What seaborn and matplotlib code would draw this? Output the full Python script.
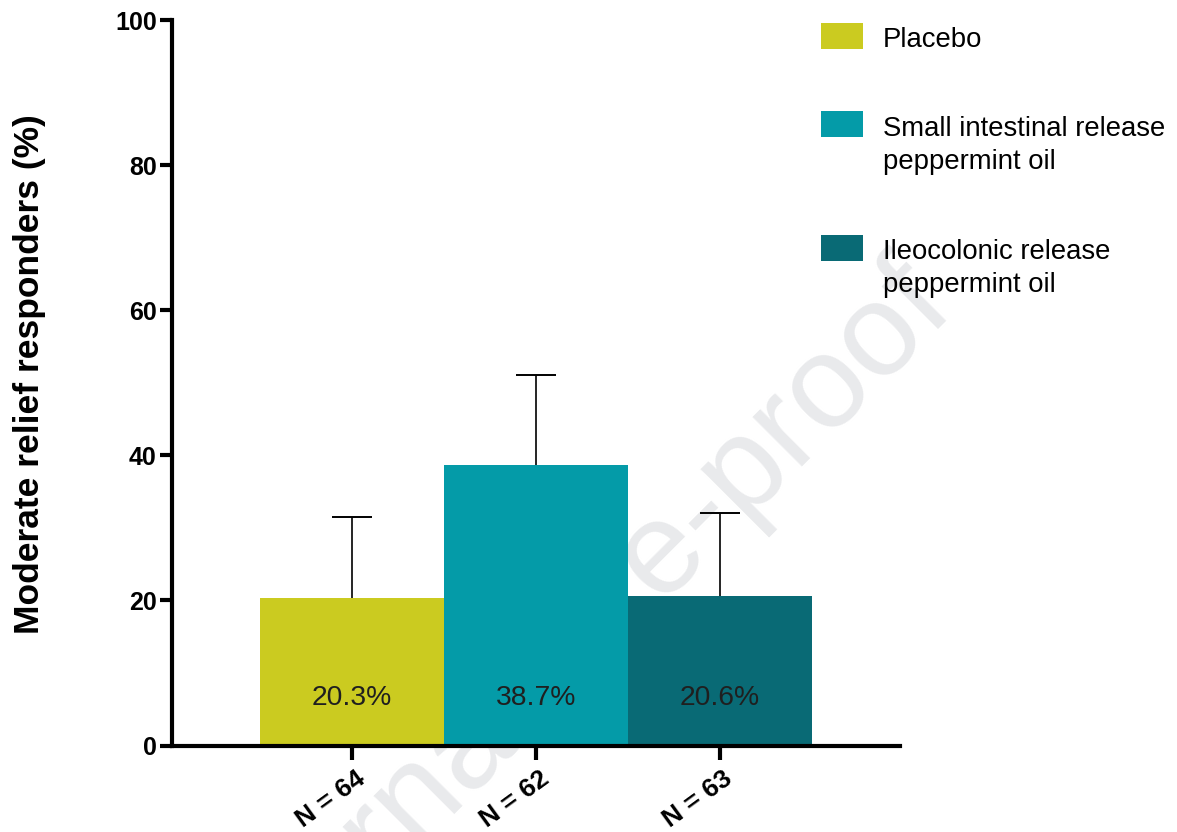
import numpy as np
import matplotlib
matplotlib.use("Agg")
import matplotlib.pyplot as plt
import matplotlib.transforms as mtransforms
from matplotlib.patches import Rectangle
import seaborn as sns

# Moderate relief responders per treatment arm
groups = ["Placebo",
          "Small intestinal release\npeppermint oil",
          "Ileocolonic release\npeppermint oil"]
n_labels = ["N = 64", "N = 62", "N = 63"]
responders = [20.3, 38.7, 20.6]
upper_ci = [31.5, 51.0, 32.0]
colors = ["#CBCB20", "#049BA8", "#096A75"]
y_ticks = [0, 20, 40, 60, 80, 100]

sns.set_theme(style="ticks")
plt.rcParams["font.family"] = ["Liberation Sans", "DejaVu Sans"]
plt.rcParams.update({"text.color": "black", "axes.labelcolor": "black",
                     "xtick.color": "black", "ytick.color": "black"})

W, H = 1177, 832
fig = plt.figure(figsize=(W / 100, H / 100), dpi=100)
fig.patch.set_facecolor("white")
ax = fig.add_axes([172 / W, 1 - 745.5 / H, (900 - 172) / W, (745.5 - 20) / H])
ax.patch.set_visible(False)

# faint diagonal watermark behind the bars
fig.text(572 / W, 1 - 648 / H, "Journal Pre-proof", rotation=45,
         rotation_mode="anchor", ha="center", va="center",
         fontsize=95, color="#e9eaec", zorder=-1)

sns.barplot(x=n_labels, y=responders, hue=n_labels, palette=colors,
            width=1.0, saturation=1, legend=False, ax=ax, zorder=2,
            linewidth=0, edgecolor="none")

resp = np.array(responders)
eb = ax.errorbar(np.arange(len(resp)), resp,
                 yerr=[np.zeros_like(resp), np.array(upper_ci) - resp],
                 fmt="none", ecolor="black", elinewidth=1.2,
                 capsize=14.4, capthick=1.4, zorder=1)
# keep only the upper caps
for cap in eb[1]:
    if np.allclose(cap.get_ydata(), resp):
        cap.set_visible(False)

for i, v in enumerate(responders):
    ax.text(i, 5.6, f"{v:.1f}%", ha="center", va="baseline",
            fontsize=20.3, color="#1f1f1f", zorder=3)

ax.set_xlim(-0.98, 2.98)
ax.set_ylim(0, 100)
ax.set_yticks(y_ticks)
ax.set_yticklabels([str(t) for t in y_ticks], fontsize=18, fontweight="bold")
ax.set_ylabel("")
ax.set_xlabel("")

for side in ["top", "right"]:
    ax.spines[side].set_visible(False)
for side in ["left", "bottom"]:
    ax.spines[side].set_linewidth(3)
    ax.spines[side].set_color("black")
    ax.spines[side].set_zorder(4)

ax.tick_params(axis="y", width=3, length=9, pad=2, color="black")
ax.tick_params(axis="x", width=3, length=10, pad=12, color="black")

offset = mtransforms.ScaledTranslation(10 / 100, 0, fig.dpi_scale_trans)
for lab in ax.get_xticklabels():
    lab.set_rotation(36)
    lab.set_rotation_mode("anchor")
    lab.set_ha("right")
    lab.set_va("center")
    lab.set_fontsize(19)
    lab.set_fontweight("bold")
    lab.set_transform(lab.get_transform() + offset)

fig.text(30 / W, 1 - 374 / H, "Moderate relief responders (%)",
         rotation=90, ha="center", va="center", fontsize=25.5,
         fontweight="bold")

# legend: colour swatches with labels
patch_tops = [23, 111, 235]
baselines = [47, 169, 292]
for lab, col, top, base in zip(groups, colors, patch_tops, baselines):
    fig.patches.append(Rectangle((821 / W, 1 - (top + 26) / H), 42 / W, 26 / H,
                                 transform=fig.transFigure, facecolor=col,
                                 edgecolor="none"))
    fig.text(883 / W, 1 - base / H, lab, ha="left", va="baseline",
             fontsize=19.8, color="black", linespacing=1.33)

fig.savefig("out.png", dpi=100)
